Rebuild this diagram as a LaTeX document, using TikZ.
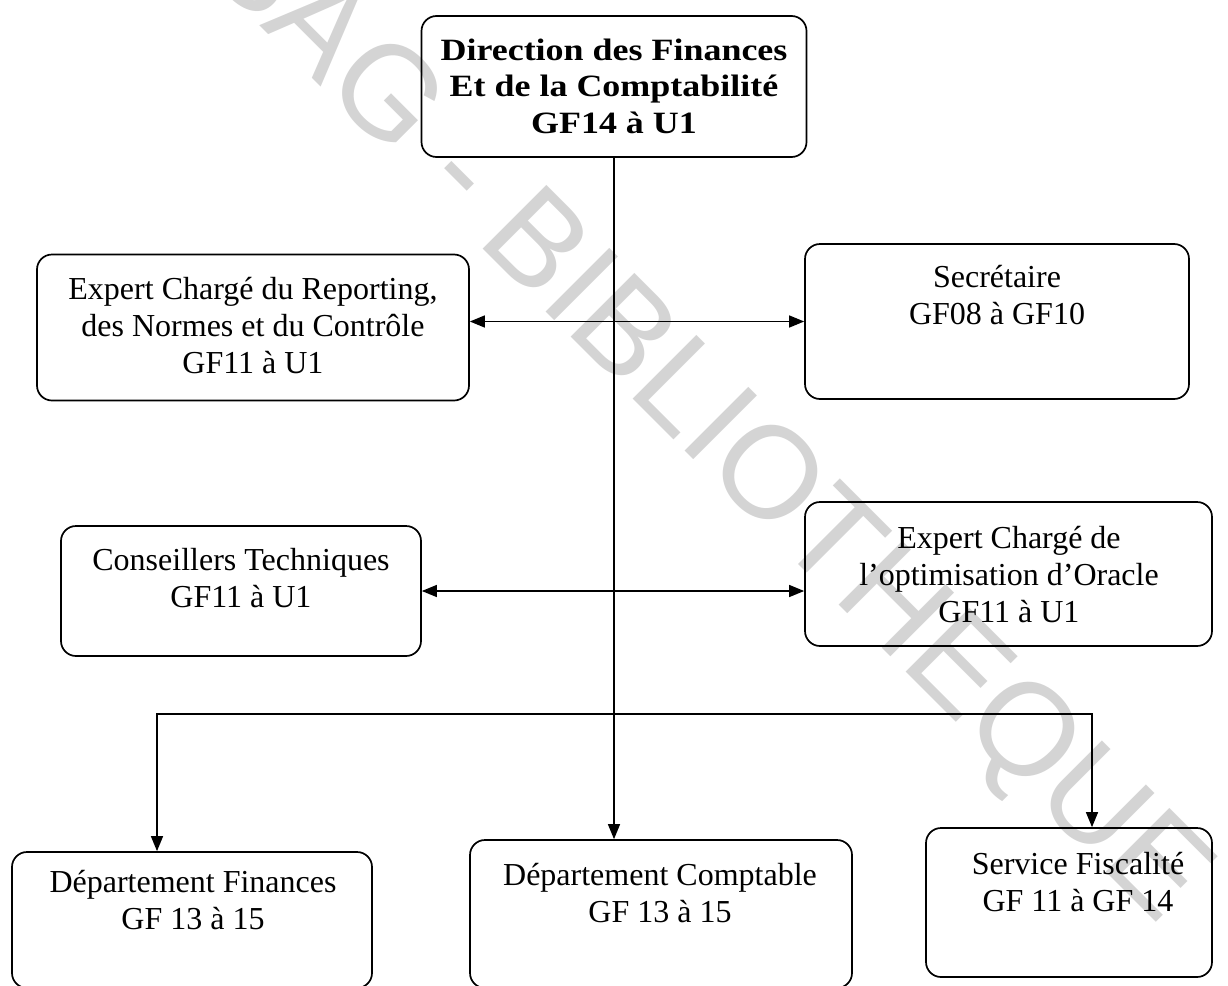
\documentclass[tikz,border=0pt]{standalone}
\usepackage{fontspec}
\setmainfont{Liberation Serif}
\newfontfamily\wmfont{Liberation Sans}
\usetikzlibrary{arrows.meta}
\definecolor{wmgray}{RGB}{212,212,212}
\begin{document}
\begin{tikzpicture}[x=1pt,y=-1pt,
  box/.style={draw, line width=1.7pt, rounded corners=15pt, inner sep=0pt},
  txt/.style={align=center, inner sep=0pt, font=\fontsize{32}{37}\selectfont},
  ttl/.style={align=center, inner sep=0pt, xscale=1.16, font=\bfseries\fontsize{31}{36.5}\selectfont},
  link/.style={line width=1.4pt},
  tip/.style={-{Triangle[length=15pt,width=12pt]}},
  both/.style={{Triangle[length=15pt,width=12pt]}-{Triangle[length=15pt,width=12pt]}},
]
\useasboundingbox (0,0) rectangle (1228,985);
\clip (0,0) rectangle (1228,985);

% library stamp across the page
\node[rotate=-45, anchor=base, inner sep=0pt, text=wmgray,
      font=\wmfont\fontsize{131}{131}\selectfont] (stamp) at (615,381)
      {CESAG - BIBLIOTHEQUE};

% frames
\node[box, minimum width=385pt, minimum height=141pt] (title) at (614,86.5) {};
\node[box, minimum width=432pt, minimum height=146pt] (rep)   at (253,327.5) {};
\node[box, minimum width=384pt, minimum height=155pt] (sec)   at (997,321.5) {};
\node[box, minimum width=360pt, minimum height=130pt] (cons)  at (241,591) {};
\node[box, minimum width=407pt, minimum height=144pt] (orc)   at (1008.5,574) {};
\node[box, minimum width=360pt, minimum height=136pt] (dfin)  at (192,920) {};
\node[box, minimum width=382pt, minimum height=148pt] (dcpt)  at (661,914) {};
\node[box, minimum width=286pt, minimum height=149pt] (sfis)  at (1069,902.5) {};

% labels
\node[ttl] (titleT) at (614,89.5) {\strut Direction des Finances\\ \strut Et de la Comptabilité\\ \strut GF14 à U1};
\node[txt] (repT)  at (253,329) {\strut Expert Chargé du Reporting,\\ \strut des Normes et du Contrôle\\ \strut GF11 à U1};
\node[txt] (secT)  at (997,299) {\strut Secrétaire\\ \strut GF08 à GF10};
\node[txt] (consT) at (241,582) {\strut Conseillers Techniques\\ \strut GF11 à U1};
\node[txt] (orcT)  at (1009,578) {\strut Expert Chargé de\\ \strut l’optimisation d’Oracle\\ \strut GF11 à U1};
\node[txt] (dfinT) at (193,904) {\strut Département Finances\\ \strut GF 13 à 15};
\node[txt] (dcptT) at (660,897) {\strut Département Comptable\\ \strut GF 13 à 15};
\node[txt] (sfisT) at (1078,886) {\strut Service Fiscalité\\ \strut GF 11 à GF 14};

% connectors
\draw[link,tip] (title.south) -- (title.south |- dcpt.north);
\draw[link,both] (sec.west -| rep.east) -- (sec.west);
\draw[link,both] (cons.east) -- (cons.east -| orc.west);
\coordinate (jl) at (157,714);
\coordinate (jr) at (1092,714);
\draw[link,both] (jl |- dfin.north) -- (jl) -- (jr) -- (jr |- sfis.north);
\end{tikzpicture}
\end{document}
